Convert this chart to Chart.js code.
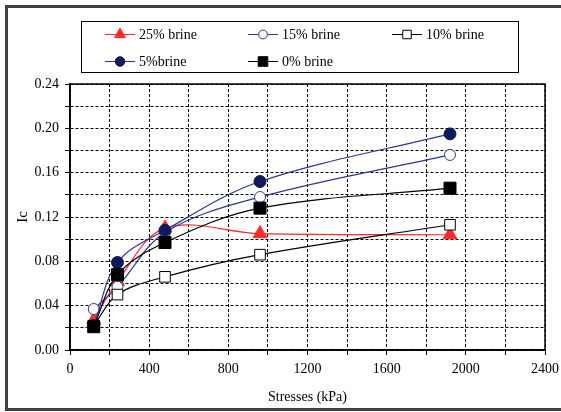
<!DOCTYPE html>
<html>
<head>
<meta charset="utf-8">
<script src="https://cdn.jsdelivr.net/npm/chart.js@4/dist/chart.umd.min.js"></script>
<style>
  html, body { margin: 0; padding: 0; background: #fff; }
  #wrap { width: 561px; height: 412px; position: relative; }
</style>
</head>
<body>
<div id="wrap"><canvas id="icChart" width="561" height="412"></canvas></div>
<script>
let stresses = [120, 240, 480, 960, 1920];
let brine25 = [0.027, 0.062, 0.110, 0.105, 0.104];
let brine15 = [0.037, 0.057, 0.106, 0.138, 0.176];
let brine10 = [0.022, 0.050, 0.066, 0.086, 0.113];
let brine5 = [0.022, 0.079, 0.108, 0.152, 0.195];
let brine0 = [0.021, 0.068, 0.097, 0.128, 0.146];
let seriesLabels = ['25% brine', '15% brine', '10% brine', '5%brine', '0% brine'];

let serif = "'Liberation Serif', 'Times New Roman', serif";

function toPoints(values) {
  return values.map((v, i) => ({ x: stresses[i], y: v }));
}

// frame around the whole picture (top, left, bottom only - right side is cut off)
// plus a solid box round the plot area
let frame = {
  id: 'frame',
  beforeDatasetsDraw(chart) {
    let a = chart.chartArea;
    let c = chart.ctx;
    c.save();
    c.strokeStyle = '#000';
    c.lineWidth = 1.5;
    c.strokeRect(a.left, a.top, a.right - a.left, a.bottom - a.top);
    c.restore();
  },
  afterDraw(chart) {
    let c = chart.ctx;
    c.save();
    c.strokeStyle = '#404040';
    c.lineWidth = 3;
    c.beginPath();
    c.moveTo(561, 6.5);
    c.lineTo(6.5, 6.5);
    c.lineTo(6.5, 409.5);
    c.lineTo(561, 409.5);
    c.stroke();
    c.restore();
  }
};

// boxed legend in three columns, like the original
let boxLegend = {
  id: 'boxLegend',
  afterDraw(chart) {
    let c = chart.ctx;
    c.save();
    c.strokeStyle = '#000';
    c.lineWidth = 1;
    c.strokeRect(81.5, 21.5, 437, 51);
    let cols = [105, 248, 392];
    let rows = [34, 61];
    c.font = '14px ' + serif;
    c.textBaseline = 'middle';
    chart.data.datasets.forEach((ds, i) => {
      let x = cols[i % 3];
      let y = rows[Math.floor(i / 3)];
      c.strokeStyle = ds.borderColor;
      c.lineWidth = 1;
      c.beginPath();
      c.moveTo(x, y + 0.5);
      c.lineTo(x + 30, y + 0.5);
      c.stroke();
      c.fillStyle = ds.pointBackgroundColor;
      c.strokeStyle = ds.pointBorderColor;
      c.lineWidth = ds.pointBorderWidth;
      Chart.helpers.drawPoint(c, {
        pointStyle: ds.pointStyle,
        radius: ds.pointRadius * 0.8,
        rotation: 0,
        borderWidth: ds.pointBorderWidth
      }, x + 15, y + 0.5);
      c.fillStyle = '#000';
      c.fillText(ds.label, x + 34, y + 1);
    });
    c.restore();
  }
};

let ctx = document.getElementById('icChart').getContext('2d');

// eslint-disable-next-line no-unused-vars
let icChart = new Chart(ctx, {
  type: 'line',
  data: {
    datasets: [{
      label: seriesLabels[0],
      data: toPoints(brine25),
      borderColor: '#ff2a2a',
      pointBackgroundColor: '#ff2a2a',
      pointBorderColor: '#ff2a2a',
      pointStyle: 'triangle',
      pointRadius: 8,
      pointBorderWidth: 1,
      order: 5
    }, {
      label: seriesLabels[1],
      data: toPoints(brine15),
      borderColor: '#2b3990',
      pointBackgroundColor: '#ffffff',
      pointBorderColor: '#2b3990',
      pointStyle: 'circle',
      pointRadius: 5.5,
      pointBorderWidth: 1,
      order: 4
    }, {
      label: seriesLabels[2],
      data: toPoints(brine10),
      borderColor: '#000000',
      pointBackgroundColor: '#ffffff',
      pointBorderColor: '#000000',
      pointStyle: 'rect',
      pointRadius: 7.5,
      pointBorderWidth: 1,
      order: 3
    }, {
      label: seriesLabels[3],
      data: toPoints(brine5),
      borderColor: '#2b3990',
      pointBackgroundColor: '#0d1a5c',
      pointBorderColor: '#0d1a5c',
      pointStyle: 'circle',
      pointRadius: 6,
      pointBorderWidth: 1,
      order: 2
    }, {
      label: seriesLabels[4],
      data: toPoints(brine0),
      borderColor: '#000000',
      pointBackgroundColor: '#000000',
      pointBorderColor: '#000000',
      pointStyle: 'rect',
      pointRadius: 8.5,
      pointBorderWidth: 1,
      order: 1
    }]
  },
  options: {
    responsive: false,
    animation: false,
    layout: {
      padding: { left: 0, right: 16, top: 84, bottom: 0 }
    },
    elements: {
      line: { borderWidth: 1.2, tension: 0.35, fill: false }
    },
    plugins: {
      legend: { display: false },
      tooltip: { enabled: false }
    },
    scales: {
      x: {
        type: 'linear',
        min: 0,
        max: 2400,
        border: { color: '#000', width: 1.5, dash: [3, 2] },
        grid: {
          color: '#000',
          lineWidth: 1,
          tickBorderDash: [],
          tickColor: '#000',
          tickLength: 5
        },
        ticks: {
          stepSize: 200,
          autoSkip: false,
          maxRotation: 0,
          color: '#000',
          font: { family: serif, size: 14 },
          padding: 6,
          callback: (v) => (v % 400 === 0 ? v : '')
        },
        title: {
          display: true,
          text: 'Stresses (kPa)',
          color: '#000',
          font: { family: serif, size: 14 },
          padding: { top: 4, bottom: 6 }
        },
        afterFit: (scale) => {
          scale.height = 62;
          scale.paddingRight = 0;
          scale.paddingLeft = 0;
        }
      },
      y: {
        min: 0,
        max: 0.24,
        border: { color: '#000', width: 1.5, dash: [3, 2] },
        grid: {
          color: '#000',
          lineWidth: 1,
          tickBorderDash: [],
          tickColor: '#000',
          tickLength: 5
        },
        ticks: {
          stepSize: 0.02,
          autoSkip: false,
          color: '#000',
          font: { family: serif, size: 14 },
          padding: 6,
          callback: (v) => (Math.round(v * 100) % 4 === 0 ? v.toFixed(2) : '')
        },
        title: {
          display: true,
          text: 'Ic',
          color: '#000',
          font: { family: serif, size: 15 },
          padding: { top: 14, bottom: 0 }
        },
        afterFit: (scale) => {
          scale.width = 70;
          scale.paddingTop = 0;
          scale.paddingBottom = 0;
        }
      }
    }
  },
  plugins: [frame, boxLegend]
});
</script>
</body>
</html>
